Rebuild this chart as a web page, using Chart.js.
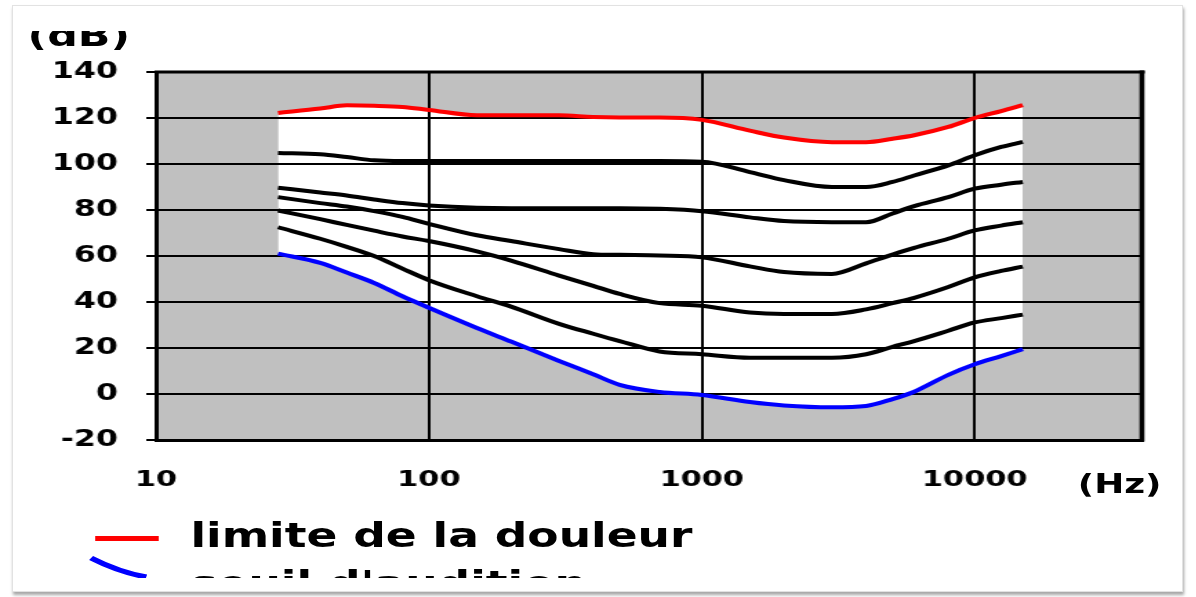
<!DOCTYPE html>
<html lang="fr">
<head>
<meta charset="utf-8">
<title>Courbes isosoniques</title>
<script src="https://cdn.jsdelivr.net/npm/chart.js@4.4.1/dist/chart.umd.min.js"></script>
<style>
html,body{margin:0;padding:0;background:#fff;}
body{width:1196px;height:597px;position:relative;overflow:hidden;}
#frame{position:absolute;left:12px;top:5px;width:1169px;height:585px;border:1px solid #e2e2e2;box-shadow:1px 3px 3px rgba(0,0,0,0.35);}
#stage{position:absolute;left:0;top:0;width:867px;height:597px;transform:scaleX(1.38);transform-origin:0 0;}
#plotbg{position:absolute;background:#c0c0c0;}
#chartbox{position:absolute;left:0;top:0;width:867px;height:597px;}
.t{position:absolute;font-family:"DejaVu Sans",Verdana,sans-serif;font-weight:bold;color:#000;white-space:nowrap;}
</style>
</head>
<body>
<div id="frame"></div>
<div id="stage">
  <div id="plotbg"></div>
  <div id="chartbox"><canvas id="c"></canvas></div>
  <div class="t" style="left:20px;top:31px;height:20px;width:120px;overflow:hidden;">
    <span id="yunit" style="position:absolute;left:0;top:-11px;font-size:31px;line-height:31px;"></span>
  </div>
  <div class="t" id="xunit" style="left:781px;top:471px;font-size:26px;line-height:26px;"></div>
  <div id="legend" style="position:absolute;left:60px;top:512px;width:520px;height:66px;overflow:hidden;">
    <div style="position:absolute;left:9px;top:24px;width:46px;height:5px;background:#ff0000;"></div>
    <svg style="position:absolute;left:0;top:0;" width="60" height="70"><path d="M 6 46 Q 26 60 46 65" stroke="#0000ff" stroke-width="5" fill="none"/></svg>
    <div class="t" id="leg0" style="left:78px;top:7px;font-size:33px;line-height:33px;"></div>
    <div class="t" id="leg1" style="left:78px;top:55px;font-size:33px;line-height:33px;"></div>
  </div>
</div>
<script>
// ---- data ----
const frequencies = [28, 40, 50, 63, 80, 100, 150, 200, 300, 400, 500, 700, 1000, 1500, 2000, 3000, 4000, 5000, 6000, 8000, 10000, 12500, 15000];
const painLimit        = [122.2, 124.1, 125.5, 125.3, 124.8, 123.5, 121.2, 121.2, 121.2, 120.4, 120.2, 120.2, 119.2, 114.5, 111.5, 109.5, 109.5, 111.0, 112.5, 116.1, 120.0, 123.0, 125.6];
const contour100       = [104.8, 104.2, 103.0, 101.6, 101.3, 101.3, 101.3, 101.3, 101.3, 101.3, 101.3, 101.3, 101.0, 96.5, 93.0, 90.0, 90.0, 92.2, 95.0, 99.4, 103.8, 107.4, 109.6];
const contour80        = [89.7, 87.6, 86.3, 84.6, 83.0, 82.0, 81.0, 80.8, 80.8, 80.8, 80.8, 80.5, 79.5, 76.8, 75.2, 74.7, 74.7, 78.5, 81.7, 85.6, 89.3, 91.0, 92.2];
const contour60        = [85.6, 83.0, 81.5, 79.5, 77.0, 74.0, 69.0, 66.5, 63.0, 60.8, 60.5, 60.2, 59.4, 55.5, 53.0, 52.2, 56.8, 60.6, 63.5, 67.5, 71.1, 73.2, 74.7];
const contour40        = [79.8, 76.0, 73.5, 71.0, 68.5, 66.5, 62.0, 58.0, 51.5, 47.0, 43.5, 39.5, 38.4, 35.4, 34.8, 34.8, 36.8, 39.5, 41.8, 46.5, 50.7, 53.5, 55.4];
const contour20        = [72.5, 67.5, 64.0, 60.0, 54.5, 49.5, 42.5, 38.0, 30.5, 26.2, 23.0, 18.5, 17.3, 15.8, 15.8, 15.8, 17.3, 20.5, 23.0, 27.5, 31.1, 33.0, 34.5];
const hearingThreshold = [61.0, 57.0, 52.8, 48.3, 42.5, 37.5, 28.7, 22.8, 14.4, 8.6, 4.0, 0.9, -0.4, -3.5, -5.0, -5.8, -5.2, -2.2, 1.0, 8.3, 12.9, 16.5, 19.5];

const xTickValues = [10, 100, 1000, 10000];
const xTickLabels = ['10', '100', '1000', '10000'];
const xMin = 10, xMax = 41000;
const yMin = -20, yMax = 140, yStep = 20;
const legendLabels = ['limite de la douleur', "seuil d'audition"];
const xUnitLabel = '(Hz)';
const yUnitLabel = '(dB)';

document.getElementById('leg0').textContent = legendLabels[0];
document.getElementById('leg1').textContent = legendLabels[1];
document.getElementById('xunit').textContent = xUnitLabel;
document.getElementById('yunit').textContent = yUnitLabel;

function pts(vals) { return frequencies.map((f, i) => ({ x: f, y: vals[i] })); }

const black = '#000000';
function blackLine(vals) {
  return { data: pts(vals), borderColor: black, borderWidth: 4, pointRadius: 0, fill: false, cubicInterpolationMode: 'monotone' };
}

const plotBgPlugin = {
  id: 'plotBg',
  afterLayout(chart) {
    const a = chart.chartArea, el = document.getElementById('plotbg');
    el.style.left = a.left + 'px';
    el.style.top = a.top + 'px';
    el.style.width = (a.right - a.left) + 'px';
    el.style.height = (a.bottom - a.top) + 'px';
  }
};
const framePlugin = {
  id: 'frame',
  afterDraw(chart) {
    const a = chart.chartArea, ctx = chart.ctx;
    ctx.save();
    ctx.strokeStyle = '#000';
    ctx.lineWidth = 3;
    ctx.beginPath(); ctx.moveTo(a.left - 1, a.top); ctx.lineTo(a.right + 2, a.top); ctx.stroke();
    ctx.lineWidth = 3.6;
    ctx.beginPath(); ctx.moveTo(a.right, a.top - 1.5); ctx.lineTo(a.right, a.bottom + 1.5); ctx.stroke();
    ctx.restore();
  }
};

const tickFont = { family: '"DejaVu Sans", Verdana, sans-serif', weight: 'bold' };

new Chart(document.getElementById('c'), {
  type: 'line',
  data: {
    datasets: [
      { data: pts(painLimit), borderColor: '#ff0000', borderWidth: 4, pointRadius: 0, fill: 6, backgroundColor: '#ffffff', cubicInterpolationMode: 'monotone' },
      blackLine(contour100),
      blackLine(contour80),
      blackLine(contour60),
      blackLine(contour40),
      blackLine(contour20),
      { data: pts(hearingThreshold), borderColor: '#0000ff', borderWidth: 4, pointRadius: 0, fill: false, cubicInterpolationMode: 'monotone' }
    ]
  },
  options: {
    responsive: true,
    maintainAspectRatio: false,
    animation: false,
    events: [],
    layout: { padding: { left: 0, top: 72, right: 39.5, bottom: 97 } },
    plugins: {
      legend: { display: false },
      tooltip: { enabled: false },
      filler: { drawTime: 'beforeDraw' }
    },
    scales: {
      x: {
        type: 'logarithmic',
        min: xMin,
        max: xMax,
        afterBuildTicks(scale) { scale.ticks = xTickValues.map(v => ({ value: v })); },
        afterFit(scale) { scale.height = 60; },
        ticks: {
          autoSkip: false, maxRotation: 0, padding: 27, color: '#000',
          font: Object.assign({ size: 22 }, tickFont),
          callback: (v, i) => xTickLabels[i]
        },
        grid: { color: '#000', lineWidth: 2, drawTicks: false },
        border: { display: true, color: '#000', width: 3 }
      },
      y: {
        min: yMin,
        max: yMax,
        afterFit(scale) { scale.width = 113; },
        ticks: {
          stepSize: yStep, padding: 20.5, color: '#000',
          font: Object.assign({ size: 23 }, tickFont)
        },
        grid: { color: '#000', lineWidth: 2, drawTicks: true, tickLength: 7 },
        border: { display: true, color: '#000', width: 3 }
      }
    }
  },
  plugins: [plotBgPlugin, framePlugin]
});
</script>
</body>
</html>
